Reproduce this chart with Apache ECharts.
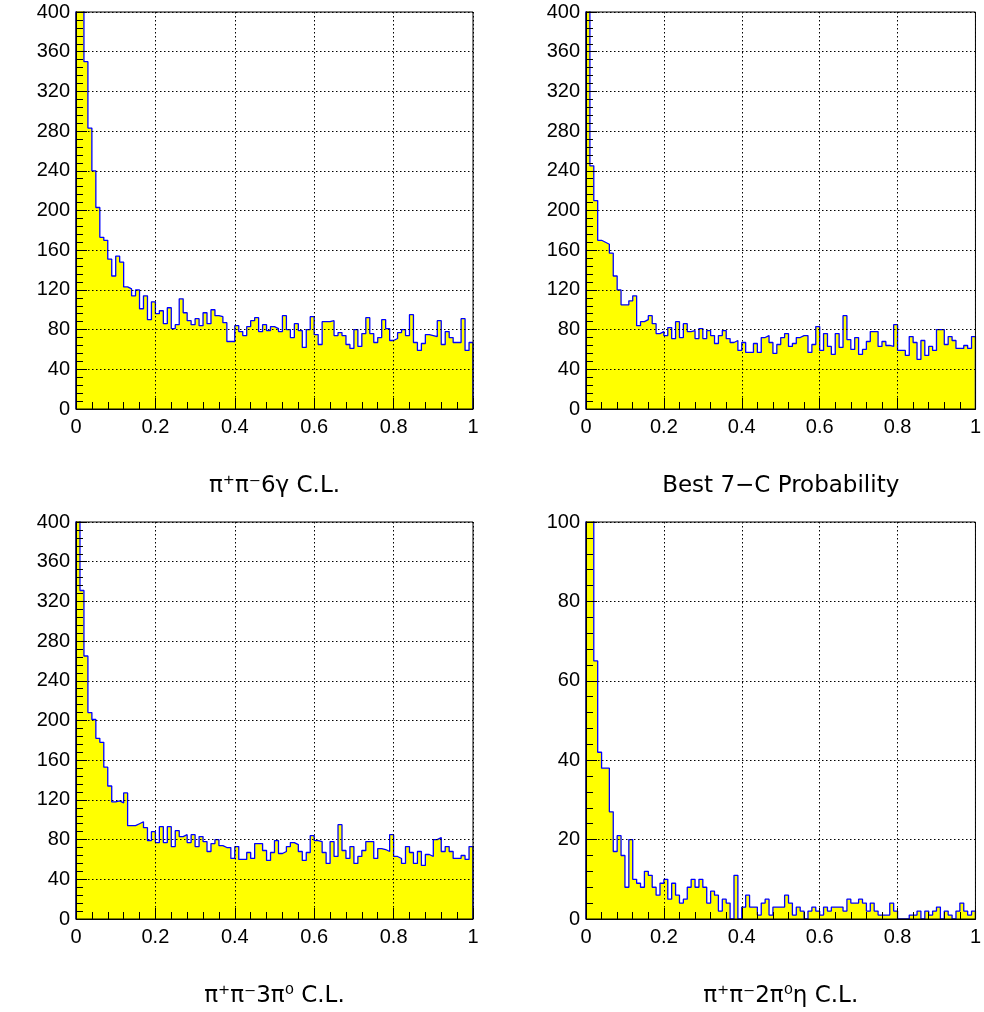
<!DOCTYPE html>
<html><head><meta charset="utf-8">
<script src="https://cdn.jsdelivr.net/npm/echarts@6/dist/echarts.min.js"></script>
<style>html,body{margin:0;padding:0;background:#fff}#c{width:984px;height:1012px}</style>
</head><body><div id="c"></div>
<script>
// Histogram range (100 equal bins each)
const binLow = 0, binHigh = 1;

// Bin contents (first bins exceed the axis maximum and are clipped)
const pipi6gammaCL = [460,440,350,283,240,203,173,170,151,134,
  154,148,123,121,114,120,101,114,90,108,
  96,99,86,102,81,85,111,97,89,85,
  91,84,97,86,100,94,93,87,68,68,
  84,78,74,83,89,92,78,85,79,83,
  81,78,94,80,72,86,79,62,80,93,
  75,65,88,88,89,74,77,74,65,61,
  80,63,76,92,76,67,72,90,81,69,
  71,77,80,74,95,67,59,66,75,74,
  73,89,65,78,72,67,67,91,59,67];

const best7CProb = [460,245,210,170,168,166,157,134,120,105,
  105,109,114,84,88,90,94,86,76,78,
  74,82,71,88,72,86,78,79,71,81,
  71,79,74,66,74,79,71,67,69,59,
  67,57,57,66,57,72,74,67,56,65,
  72,76,63,66,72,74,74,57,65,83,
  59,76,63,55,76,62,94,70,60,72,
  55,60,68,78,78,63,68,64,63,85,
  59,59,54,73,67,50,69,54,63,59,
  80,80,65,73,69,61,61,64,61,73];

const pipi3pi0CL = [460,331,265,208,201,182,178,153,134,118,
  119,117,127,94,94,96,98,92,79,88,
  77,93,77,93,73,89,83,85,77,85,
  73,83,78,68,76,80,74,72,72,61,
  73,60,60,67,61,76,76,69,59,67,
  79,66,68,73,77,75,68,59,67,84,
  79,78,67,56,78,63,95,69,61,73,
  56,63,69,78,78,61,71,70,68,85,
  63,61,56,73,67,56,68,54,65,63,
  80,82,68,73,68,61,61,64,60,73];

const pipi2pi0etaCL = [180,150,65,42,38,38,27,17,21,16,
  8,20,10,9,8,12,11,8,6,9,
  10,5,9,6,4,5,8,10,8,10,
  8,4,7,6,2,5,4,0,11,0,
  3,6,3,3,1,4,5,1,3,3,
  3,6,4,1,3,2,0,2,3,2,
  1,3,2,3,3,3,2,5,4,4,
  5,4,2,4,2,1,1,1,4,2,
  0,0,0,1,1,2,0,2,1,2,
  3,0,2,1,0,2,4,2,1,2];

const panelData = [pipi6gammaCL, best7CProb, pipi3pi0CL, pipi2pi0etaCL];
const panelTitles = ['π⁺π⁻6γ C.L.', 'Best 7−C Probability', 'π⁺π⁻3π⁰ C.L.', 'π⁺π⁻2π⁰η C.L.'];
const yMaxes = [400, 400, 400, 100];
const yIntervals = [40, 40, 40, 20];
const xInterval = 0.2;

const FONT = '"Liberation Sans", Arial, sans-serif';
const TITLE_FONT = '"DejaVu Sans", "Liberation Sans", sans-serif';
const gridBoxes = [
  {left: 76, top: 12, width: 397, height: 397},
  {left: 586, top: 12, width: 397, height: 397},
  {left: 76, top: 522, width: 397, height: 397},
  {left: 586, top: 522, width: 397, height: 397}
];

function histPoints(vals) {
  const n = vals.length;
  const pts = [[binLow, 0]];
  vals.forEach((v, i) => pts.push([binLow + (binHigh - binLow) * i / n, v]));
  pts.push([binHigh, vals[n - 1]]);
  pts.push([binHigh, 0]);
  return pts;
}

const tickStyle = {color: '#000', width: 1};
const gridLine = {show: true, lineStyle: {color: '#000', width: 1, type: [1.5, 2.5]}};

const option = {
  animation: false,
  backgroundColor: '#fff',
  grid: gridBoxes.map(g => Object.assign({show: true, borderColor: '#000', borderWidth: 1, backgroundColor: 'transparent', z: 6}, g)),
  xAxis: panelTitles.map((t, i) => ({
    type: 'value', gridIndex: i, min: binLow, max: binHigh, interval: xInterval, z: 5,
    name: t, nameLocation: 'middle', nameGap: 66,
    nameTextStyle: {fontSize: 23, color: '#000', fontFamily: TITLE_FONT},
    axisLine: {show: true, lineStyle: tickStyle},
    axisTick: {show: true, inside: true, length: 11, lineStyle: tickStyle},
    minorTick: {show: true, splitNumber: 5, length: 7, lineStyle: tickStyle},
    splitLine: gridLine,
    axisLabel: {fontSize: 20, color: '#000', fontFamily: FONT, margin: 8}
  })),
  yAxis: panelTitles.map((t, i) => ({
    type: 'value', gridIndex: i, min: 0, max: yMaxes[i], interval: yIntervals[i], z: 5,
    axisLine: {show: true, lineStyle: tickStyle},
    axisTick: {show: true, inside: true, length: 11, lineStyle: tickStyle},
    minorTick: {show: true, splitNumber: 5, length: 7, lineStyle: tickStyle},
    splitLine: gridLine,
    axisLabel: {fontSize: 20, color: '#000', fontFamily: FONT, margin: 6}
  })),
  series: panelData.map((vals, i) => ({
    type: 'line', xAxisIndex: i, yAxisIndex: i, step: 'end', symbol: 'none', clip: true,
    data: histPoints(vals),
    lineStyle: {color: '#0000ff', width: 1.3},
    areaStyle: {color: '#ffff00', opacity: 1},
    z: 2
  }))
};

const chart = echarts.init(document.getElementById('c'), null, {renderer: 'canvas'});
chart.setOption(option);
</script>
</body></html>
